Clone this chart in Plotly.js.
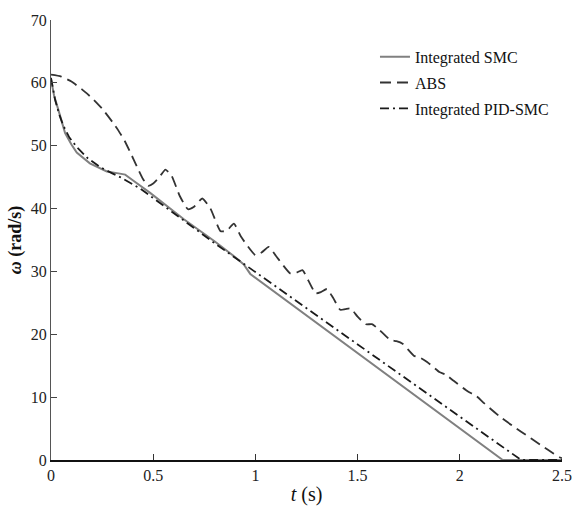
<!DOCTYPE html>
<html>
<head>
<meta charset="utf-8">
<script src="https://cdn.plot.ly/plotly-3.0.1.min.js"></script>
<style>html,body{margin:0;padding:0;background:#fff;}#chart{width:573px;height:506px;}</style>
</head>
<body>
<div id="chart"></div>
<script>
// Integrated SMC
const smcT = [0, 0.015, 0.036, 0.069, 0.1, 0.126, 0.19, 0.273, 0.33, 0.363, 0.4, 0.485, 0.65, 0.8, 0.9, 0.943, 0.975, 1.2, 1.5, 1.8, 2.21, 2.5];
const smcW = [60.6, 58.0, 55.7, 52.0, 50.2, 48.9, 47.2, 45.9, 45.6, 45.4, 44.5, 42.5, 38.3, 34.8, 32.3, 31.1, 29.6, 24.2, 17.0, 9.8, 0, 0];

// ABS
const absT = [0, 0.05, 0.1, 0.15, 0.2, 0.25, 0.3, 0.33, 0.36, 0.39, 0.42, 0.45, 0.475, 0.5, 0.53, 0.56, 0.59, 0.63, 0.67, 0.7, 0.74, 0.78, 0.83, 0.86, 0.895, 0.93, 1.0, 1.03, 1.065, 1.1, 1.17, 1.2, 1.23, 1.26, 1.295, 1.32, 1.35, 1.38, 1.415, 1.44, 1.466, 1.5, 1.54, 1.57, 1.6, 1.66, 1.69, 1.72, 1.775, 1.81, 1.84, 1.9, 1.93, 1.97, 2.04, 2.08, 2.12, 2.2, 2.3, 2.4, 2.46, 2.49, 2.5];
const absW = [61.3, 61.0, 60.2, 59.0, 57.6, 55.9, 53.8, 52.4, 50.8, 48.8, 46.7, 44.7, 43.6, 44.0, 45.0, 46.2, 45.2, 42.0, 39.9, 40.3, 41.6, 40.0, 36.4, 36.5, 37.6, 35.5, 32.6, 33.0, 33.9, 32.5, 29.7, 29.8, 30.2, 28.5, 26.5, 26.7, 27.2, 25.8, 23.9, 24.0, 24.1, 22.8, 21.6, 21.6, 20.9, 19.1, 18.9, 18.5, 16.6, 16.2, 15.6, 14.0, 13.6, 12.6, 10.9, 10.2, 9.0, 6.8, 4.5, 2.3, 1.0, 0.4, 0.3];

// Integrated PID-SMC
const pidT = [0, 0.02, 0.04, 0.06, 0.09, 0.126, 0.18, 0.24, 0.3, 0.338, 0.436, 0.5, 0.6, 0.7, 0.8, 0.9, 0.975, 1.2, 1.5, 1.8, 2.0, 2.3, 2.5];
const pidW = [60.8, 57.3, 55.0, 53.2, 51.3, 49.8, 48.0, 46.6, 45.6, 45.0, 43.2, 41.7, 39.3, 36.9, 34.5, 32.2, 30.4, 25.2, 18.4, 11.5, 6.9, 0, 0];

const xTicks = [0, 0.5, 1, 1.5, 2, 2.5];
const xTickText = ['0', '0.5', '1', '1.5', '2', '2.5'];
const yTicks = [0, 10, 20, 30, 40, 50, 60, 70];

const serif = '"Liberation Serif", "Times New Roman", serif';

const traces = [
  {x: smcT, y: smcW, name: 'Integrated SMC', mode: 'lines', legendgroup: 'a',
   line: {color: '#808080', width: 2}},
  {x: absT, y: absW, name: 'ABS', mode: 'lines', legendgroup: 'b',
   line: {color: '#333333', width: 1.8, dash: '11px,6px', shape: 'spline', smoothing: 0.5}},
  {x: pidT, y: pidW, name: 'Integrated PID-SMC', mode: 'lines', legendgroup: 'c',
   line: {color: '#1a1a1a', width: 1.8, dash: '9px,4px,2px,4px'}}
];

const layout = {
  width: 573, height: 506,
  margin: {l: 51, r: 11, t: 20, b: 46},
  paper_bgcolor: '#ffffff', plot_bgcolor: '#ffffff',
  font: {family: serif, color: '#222', size: 15},
  showlegend: true,
  legend: {x: 0.634, y: 0.955, xanchor: 'left', yanchor: 'top',
           traceorder: 'grouped', tracegroupgap: 2,
           bgcolor: 'rgba(0,0,0,0)', font: {family: serif, size: 16, color: '#111'}},
  xaxis: {range: [0, 2.5], tickvals: xTicks, ticktext: xTickText,
          showgrid: false, zeroline: false, showline: true,
          linecolor: '#111', linewidth: 1.5, ticks: 'inside', ticklen: 6,
          tickcolor: '#333', tickfont: {family: serif, size: 16, color: '#222'},
          title: {text: '<i>t</i> (s)', font: {family: serif, size: 20, color: '#111'}, standoff: 4}},
  yaxis: {range: [0, 70], tickvals: yTicks,
          showgrid: false, zeroline: false, showline: true,
          linecolor: '#555', linewidth: 1, ticks: 'inside', ticklen: 6,
          tickcolor: '#444', tickfont: {family: serif, size: 16, color: '#222'},
          title: {text: '<b><i>ω</i> (rad/s)</b>', font: {family: serif, size: 18, color: '#111'}, standoff: 4}}
};

Plotly.newPlot('chart', traces, layout, {displayModeBar: false, staticPlot: true});
</script>
</body>
</html>
